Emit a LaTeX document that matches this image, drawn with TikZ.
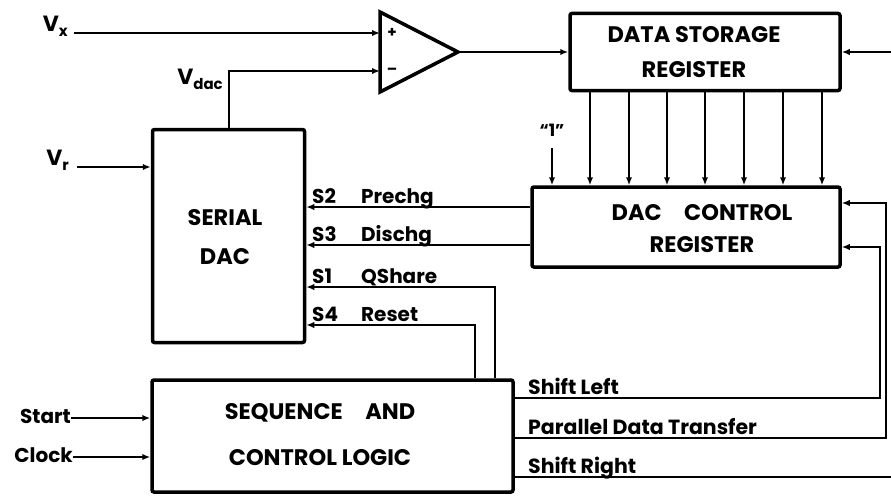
\documentclass[tikz,border=0pt]{standalone}
\usepackage{fontspec}
\setmainfont{Poppins}
\usetikzlibrary{arrows.meta}
\newcommand\lowtxt[1]{\raisebox{-5pt}{\fontsize{15}{15}\selectfont #1}}
\begin{document}
\begin{tikzpicture}[x=1pt,y=-1pt,
  box/.style={draw, line width=3.5pt, rounded corners=2pt, inner sep=0pt},
  btext/.style={align=center, inner sep=0pt, font=\bfseries\fontsize{22.5}{#1}\selectfont},
  btext/.default=34,
  wire/.style={line width=2pt},
  arr/.style={wire, -{Latex[length=8pt,width=6.5pt]}},
  lbl/.style={inner sep=0pt, font=\bfseries\fontsize{20.5}{20.5}\selectfont},
  sig/.style={inner sep=0pt, font=\bfseries\fontsize{20}{20}\selectfont},
]
\useasboundingbox (0,0) rectangle (891,495);

% blocks
\node[box, minimum width=270pt, minimum height=77pt] (dsr) at (705,52) {};
\node[btext=35] (dsrt) at (694,52) {DATA STORAGE\\REGISTER};
\node[box, minimum width=308pt, minimum height=80pt] (dcr) at (686,227) {};
\node[btext=32] (dcrt) at (702,229) {DAC\quad CONTROL\\REGISTER};
\node[box, minimum width=152pt, minimum height=213pt] (dac) at (228.5,236) {};
\node[btext=39] (dact) at (225,237) {SERIAL\\DAC};
\node[box, minimum width=361pt, minimum height=112pt] (seq) at (332.5,436) {};
\node[btext=46] (seqt) at (320,435) {SEQUENCE\quad AND\\CONTROL LOGIC};

% comparator
\draw[line width=3.5pt, line join=miter] (380,12) -- (458,52) -- (380,92) -- cycle;
\coordinate (cinp) at (380,33);
\coordinate (cinm) at (380,71);
\coordinate (cout) at (458,52);
\node[inner sep=0pt, font=\bfseries\fontsize{15}{15}\selectfont] (plus) at (392,33) {+};
\node[inner sep=0pt, font=\bfseries\fontsize{15}{15}\selectfont] (minus) at (392,71) {\textendash};

% input labels
\node[sig, font=\bfseries\fontsize{22}{22}\selectfont, anchor=east] (vx) at (68,26) {V\lowtxt{x}};
\node[sig, font=\bfseries\fontsize{22}{22}\selectfont, anchor=east] (vr) at (69,160) {V\lowtxt{r}};
\node[sig, font=\bfseries\fontsize{22}{22}\selectfont, anchor=east] (vdac) at (223,79) {V\lowtxt{dac}};
\node[sig, anchor=east] (start) at (71,416) {Start};
\node[sig, anchor=east] (clock) at (73,455) {Clock};

\coordinate (vxs) at (74,33);
\coordinate (vrs) at (77,167);
\draw[arr] (vxs) -- (cinp);
\draw[arr] (vrs) -- (vrs -| dac.west);
\draw[arr] (dac.north) -- (228.5,71) -- (cinm);
\draw[arr] (cout) -- (cout -| dsr.west);
\coordinate (dsrin) at (891,52);
\draw[arr] (dsrin) -- (dsr.east);
\draw[arr] (start.east |- 0,418) -- (seq.west |- 0,418);
\draw[arr] (clock.east |- 0,457) -- (seq.west |- 0,457);

% parallel lines DSR -> DCR
\foreach \x in {590,629,667,705,744,783,822}
  \draw[arr] (\x,0 |- dsr.south) -- (\x,0 |- dcr.north);
\node[sig, font=\bfseries\fontsize{17}{17}\selectfont] (one) at (552,130) {“1”};
\coordinate (ones) at (552,148);
\draw[arr] (ones) -- (ones |- dcr.north);

% DCR -> DAC
\draw[arr] (dcr.west |- 0,207) -- (dac.east |- 0,207);
\draw[arr] (dcr.west |- 0,245) -- (dac.east |- 0,245);
% SEQ -> DAC
\draw[arr] (495,0 |- seq.north) -- (495,287) -- (dac.east |- 0,287);
\draw[arr] (475,0 |- seq.north) -- (475,325) -- (dac.east |- 0,325);

\node[sig, anchor=base west] (s2) at (312,203) {S2};
\node[sig, anchor=base west] (prechg) at (361,203) {Prechg};
\node[sig, anchor=base west] (s3) at (312,241) {S3};
\node[sig, anchor=base west] (dischg) at (361,241) {Dischg};
\node[sig, anchor=base west] (s1) at (312,283) {S1};
\node[sig, anchor=base west] (qshare) at (361,283) {QShare};
\node[sig, anchor=base west] (s4) at (312,321) {S4};
\node[sig, anchor=base west] (reset) at (361,321) {Reset};

% SEQ -> DCR
\draw[arr] (seq.east |- 0,398) -- (880,398) -- (880,247) -- (dcr.east |- 0,247);
\draw[arr] (seq.east |- 0,438) -- (886,438) -- (886,203) -- (dcr.east |- 0,203);
\coordinate (srout) at (891,477);
\draw[wire] (seq.east |- srout) -- (srout);

\node[lbl, anchor=base west] (sl) at (528,394) {Shift Left};
\node[lbl, anchor=base west] (pdt) at (528,434) {Parallel Data Transfer};
\node[lbl, anchor=base west] (sr) at (528,473) {Shift Right};
\end{tikzpicture}
\end{document}
